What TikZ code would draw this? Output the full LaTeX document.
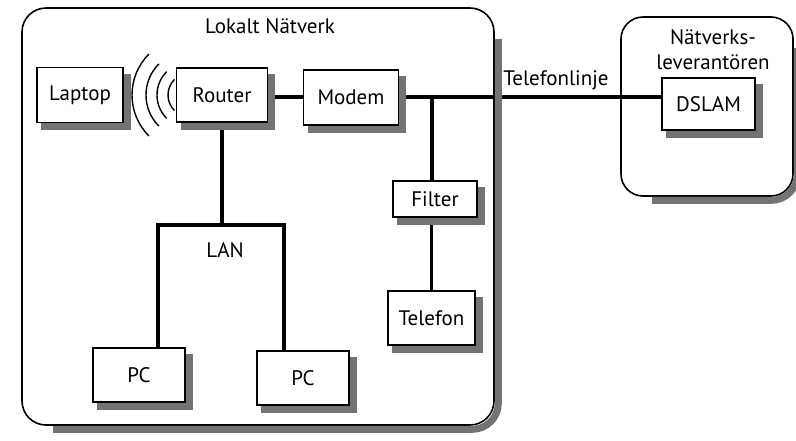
\documentclass[tikz,border=0pt]{standalone}
\usepackage{fontspec}
\setmainfont{PT Sans}
\usepackage{tikz}
\usetikzlibrary{positioning,calc}

\begin{document}
\begin{tikzpicture}[
x=1pt,y=-1pt,
font=\fontsize{21}{25}\selectfont,
area/.style={draw,line width=1.6pt,rounded corners=24pt,fill=white,inner sep=0pt},
device/.style={draw,line width=1.2pt,fill=white,inner sep=0pt},
shadowline/.style={draw=black!55,line width=7pt,line join=miter},
wire/.style={line width=3.5pt},
wave/.style={line width=1.4pt}]
    \useasboundingbox (0,0) rectangle (796,440);

    % Draw networks
    \node[area,minimum width=472pt,minimum height=417pt] (lokalt) at (258,216.5) {};
    \node[area,rounded corners=22pt,minimum width=172pt,minimum height=179pt] (leverantor) at (707,106.5) {};
    \node (lokaltlabel) at (270,26) {Lokalt Nätverk};
    \node[align=center] (levlabel) at (713,50) {Nätverks-\\leverantören};

    % Draw wires
    \coordinate (tap) at (432,97);
    \coordinate (lanA) at (158,225);
    \coordinate (lanB) at (284,225);
    \coordinate (radio) at (190,95);

    % Draw devices
    \node[device,minimum width=86pt,minimum height=55pt] (laptop) at (80,95) {Laptop};
    \node[device,minimum width=91pt,minimum height=54pt] (router) at (222,95) {Router};
    \node[device,minimum width=95pt,minimum height=55pt] (modem) at (351,97.5) {Modem};
    \node[device,minimum width=93pt,minimum height=52pt] (dslam) at (708.5,104) {DSLAM};
    \node[device,minimum width=84pt,minimum height=36pt] (filter) at (435,199) {Filter};
    \node[device,minimum width=87pt,minimum height=54pt] (telefon) at (431.5,318) {Telefon};
    \node[device,minimum width=92pt,minimum height=54pt] (pcA) at (139,375) {PC};
    \node[device,minimum width=92pt,minimum height=54pt] (pcB) at (303,378) {PC};

    \draw[wire] (router.east |- tap) -- (modem.west |- tap);
    \draw[wire] (modem.east |- tap) -- (dslam.west |- tap);
    \draw[wire] (tap) -- (tap |- filter.north);
    \draw[wire] (telefon.north) -- (telefon.north |- filter.south);
    \draw[wire] (router.south) -- (router.south |- lanA);
    \draw[wire] (lanA |- pcA.north) -- (lanA) -- (lanB) -- (lanB |- pcB.north);

    \node (linetext) at (556,80) {Telefonlinje};
    \node (lantext) at (225,250) {LAN};

    % Draw radio waves
    \foreach \r in {22,33,44,58}
        \draw[wave] ($(radio)+(135:\r)$) arc[start angle=135,end angle=225,radius=\r];

    % Draw shadows
    \foreach \n in {laptop,router,modem,dslam,filter,telefon,pcA,pcB}
        \draw[shadowline] ($(\n.north east)+(3.5,7)$) -- ($(\n.south east)+(3.5,3.5)$) -- ($(\n.south west)+(5,3.5)$);
    \foreach \n in {lokalt,leverantor}
        \draw[shadowline,rounded corners=26pt] ($(\n.north east)+(3.5,32)$) -- ($(\n.south east)+(3.5,3.5)$) -- ($(\n.south west)+(32,3.5)$);

\end{tikzpicture}
\end{document}
